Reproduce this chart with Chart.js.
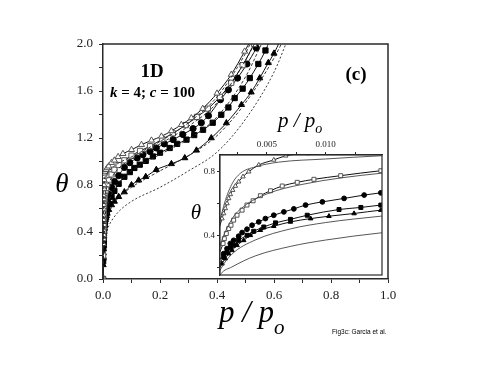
<!DOCTYPE html>
<html><head><meta charset="utf-8">
<script src="https://cdn.jsdelivr.net/npm/chart.js@4"></script>
<style>
html,body{margin:0;padding:0;background:#fff;}
#wrap{position:relative;width:491px;height:379px;}
#main{position:absolute;left:0;top:0;}
#inset{position:absolute;left:180px;top:100px;}
</style></head>
<body>
<div id="wrap">
<canvas id="main" width="491" height="379"></canvas>
<canvas id="inset" width="210" height="185"></canvas>
</div>
<script>
// ---- data (p/po, theta) ----
const pTriOpen = [0, 0.0005, 0.001168, 0.00131, 0.001453, 0.001596, 0.001738, 0.00188, 0.00208, 0.00231, 0.00259, 0.00296, 0.00345, 0.0043, 0.00558, 0.0066, 0.0085, 0.011, 0.015, 0.02, 0.03, 0.04, 0.053, 0.07, 0.1, 0.135, 0.17, 0.205, 0.24, 0.275, 0.31, 0.35, 0.4, 0.45, 0.497, 0.52];
const thTriOpen = [0, 0.3, 0.505, 0.537, 0.569, 0.6, 0.632, 0.657, 0.684, 0.71, 0.737, 0.769, 0.8, 0.842, 0.874, 0.9, 0.915, 0.93, 0.945, 0.96, 0.99, 1.01, 1.04, 1.066, 1.1, 1.143, 1.18, 1.214, 1.26, 1.313, 1.37, 1.45, 1.58, 1.74, 1.937, 2.04];

const pSqOpen = [0, 0.0005, 0.00126, 0.001368, 0.001538, 0.00174, 0.001937, 0.00216, 0.00245, 0.00288, 0.0033, 0.00382, 0.00444, 0.0053, 0.0063, 0.00758, 0.009, 0.01128, 0.0147, 0.02, 0.03, 0.04, 0.055, 0.075, 0.1, 0.13, 0.165, 0.208, 0.245, 0.29, 0.33, 0.368, 0.41, 0.45, 0.49, 0.53, 0.54];
const thSqOpen = [0, 0.2, 0.348, 0.379, 0.411, 0.442, 0.463, 0.495, 0.526, 0.558, 0.59, 0.617, 0.649, 0.68, 0.71, 0.733, 0.752, 0.775, 0.806, 0.84, 0.89, 0.93, 0.97, 1.01, 1.05, 1.09, 1.13, 1.19, 1.24, 1.31, 1.38, 1.45, 1.55, 1.67, 1.82, 2.0, 2.05];

const pCirc = [0, 0.0005, 0.00131, 0.001596, 0.00188, 0.002165, 0.00259, 0.00288, 0.0033, 0.00373, 0.0043, 0.00487, 0.00558, 0.00644, 0.00729, 0.00829, 0.00972, 0.01157, 0.01328, 0.0147, 0.02, 0.03, 0.04, 0.055, 0.075, 0.094, 0.12, 0.14, 0.165, 0.187, 0.215, 0.246, 0.28, 0.316, 0.345, 0.37, 0.412, 0.44, 0.472, 0.505, 0.538, 0.55];
const thCirc = [0, 0.17, 0.284, 0.316, 0.348, 0.368, 0.394, 0.417, 0.438, 0.463, 0.484, 0.505, 0.526, 0.547, 0.566, 0.59, 0.61, 0.632, 0.653, 0.667, 0.72, 0.78, 0.83, 0.88, 0.95, 0.99, 1.03, 1.058, 1.085, 1.115, 1.15, 1.186, 1.23, 1.28, 1.33, 1.39, 1.526, 1.61, 1.71, 1.83, 1.966, 2.03];

const pSq = [0, 0.0005, 0.00131, 0.0016, 0.00188, 0.00216, 0.00259, 0.0033, 0.00387, 0.00473, 0.00573, 0.007, 0.00843, 0.01114, 0.013, 0.0147, 0.02, 0.03, 0.04, 0.055, 0.075, 0.094, 0.11, 0.129, 0.15, 0.175, 0.2, 0.234, 0.26, 0.293, 0.32, 0.351, 0.385, 0.415, 0.44, 0.462, 0.49, 0.515, 0.545, 0.57, 0.585];
const thSq = [0, 0.15, 0.263, 0.295, 0.322, 0.337, 0.368, 0.4, 0.425, 0.452, 0.478, 0.5, 0.526, 0.562, 0.575, 0.59, 0.64, 0.7, 0.75, 0.81, 0.87, 0.91, 0.945, 0.973, 1.005, 1.043, 1.075, 1.115, 1.15, 1.186, 1.225, 1.27, 1.33, 1.398, 1.46, 1.54, 1.62, 1.71, 1.83, 1.945, 2.03];

const pTri = [0, 0.0005, 0.00117, 0.00145, 0.00174, 0.00203, 0.00245, 0.00302, 0.00359, 0.00444, 0.00558, 0.007, 0.00872, 0.01028, 0.01242, 0.0147, 0.02, 0.03, 0.04, 0.055, 0.075, 0.1, 0.125, 0.15, 0.187, 0.24, 0.287, 0.328, 0.38, 0.433, 0.486, 0.52, 0.55, 0.58, 0.6, 0.62];
const thTri = [0, 0.12, 0.221, 0.253, 0.284, 0.305, 0.337, 0.368, 0.4, 0.432, 0.457, 0.484, 0.505, 0.52, 0.537, 0.558, 0.59, 0.63, 0.66, 0.7, 0.74, 0.8, 0.84, 0.87, 0.93, 0.98, 1.03, 1.095, 1.2, 1.328, 1.483, 1.59, 1.71, 1.84, 1.92, 2.02];

// theoretical (thin / dashed) curves
const pD1 = [0, 0.0005, 0.0013, 0.002, 0.00274, 0.004, 0.006, 0.01, 0.0147, 0.03, 0.05, 0.1, 0.2, 0.3, 0.4, 0.5, 0.52];
const thD1 = [0, 0.3, 0.58, 0.72, 0.79, 0.83, 0.86, 0.88, 0.9, 0.94, 0.98, 1.04, 1.17, 1.33, 1.55, 1.92, 2.02];
const pD2 = [0, 0.001, 0.002, 0.003, 0.005, 0.008, 0.0147, 0.03, 0.05, 0.1, 0.2, 0.3, 0.4, 0.5, 0.535];
const thD2 = [0, 0.33, 0.5, 0.58, 0.66, 0.72, 0.79, 0.86, 0.93, 1.02, 1.15, 1.3, 1.5, 1.86, 2.02];
const pD3 = [0, 0.005, 0.0147, 0.02, 0.05, 0.1, 0.2, 0.3, 0.4, 0.5, 0.56];
const thD3 = [0, 0.45, 0.61, 0.66, 0.8, 0.92, 1.06, 1.19, 1.38, 1.72, 2.02];
const pD4 = [0, 0.00108, 0.002, 0.004, 0.007, 0.01, 0.0147, 0.02, 0.05, 0.1, 0.2, 0.3, 0.4, 0.5, 0.6, 0.63];
const thD4 = [0, 0.19, 0.28, 0.37, 0.44, 0.48, 0.52, 0.56, 0.68, 0.78, 0.92, 1.05, 1.22, 1.5, 1.88, 2.02];
const pD5 = [0, 0.00108, 0.002, 0.004, 0.007, 0.01, 0.0147, 0.02, 0.05, 0.1, 0.2, 0.3, 0.4, 0.5, 0.6, 0.645];
const thD5 = [0, 0.158, 0.2, 0.27, 0.33, 0.37, 0.415, 0.45, 0.56, 0.66, 0.78, 0.92, 1.08, 1.36, 1.76, 2.02];

// axis tick settings
const mainXTicks = [0.0, 0.2, 0.4, 0.6, 0.8, 1.0];
const mainYTicks = [0.0, 0.4, 0.8, 1.2, 1.6, 2.0];
const insetXTicks = [0.005, 0.010];
const insetYTicks = [0.4, 0.8];

function pts(px, py){ return px.map((x,i)=>({x:x, y:py[i]})); }
const SERIF = "'Liberation Serif','Times New Roman',serif";
const DARK = '#2a2a2a';

function markerSet(px, py, style, filled, r){
  return {data:pts(px,py), pointStyle:style, pointRadius:r, pointHoverRadius:r,
    pointBackgroundColor: filled ? '#000' : '#fff', pointBorderColor: filled ? '#000' : '#555',
    pointBorderWidth:1, borderColor:'#111', borderWidth:1, cubicInterpolationMode:'monotone', fill:false};
}
function thinSet(px, py, dash, color){
  return {data:pts(px,py), pointRadius:0, borderColor:color, borderWidth:0.9, borderDash:dash,
    cubicInterpolationMode:'monotone', fill:false};
}
function labelIn(list, v){ return list.some(t=>Math.abs(t-v)<1e-9); }

Chart.defaults.animation = false;
Chart.defaults.font.family = SERIF;

const mainPlugin = {
  id:'mainDeco',
  afterDraw(c){
    const ctx=c.ctx, a=c.chartArea;
    ctx.save();
    ctx.strokeStyle=DARK; ctx.lineWidth=1.5;
    ctx.beginPath(); ctx.moveTo(a.left,a.top); ctx.lineTo(a.right,a.top); ctx.lineTo(a.right,a.bottom); ctx.stroke();
    ctx.fillStyle='#000';
    ctx.textBaseline='alphabetic';
    ctx.font="bold 19px "+SERIF; ctx.textAlign='center';
    ctx.fillText('1D',152,77);
    ctx.fillText('(c)',356,80);
    ctx.textAlign='left';
    let x=110, y=97;
    const parts=[['k','bold italic'],[' = 4; ','bold'],['c','bold italic'],[' = 100','bold']];
    parts.forEach(([t,f])=>{ctx.font=f+" 15px "+SERIF; ctx.fillText(t,x,y); x+=ctx.measureText(t).width;});
    ctx.font="italic 27px "+SERIF; ctx.textAlign='center';
    ctx.fillText('\u03B8',62,192);
    ctx.textAlign='left';
    ctx.font="italic 31px "+SERIF;
    ctx.fillText('p / p',219,322);
    let w=ctx.measureText('p / p').width;
    ctx.font="italic 21px "+SERIF;
    ctx.fillText('o',219+w,334);
    ctx.font="6.5px 'Liberation Sans',Arial,sans-serif";
    ctx.fillText('Fig3c: Garcia et al.',332,334);
    ctx.restore();
  }
};

new Chart(document.getElementById('main'),{
  type:'line',
  data:{datasets:[
    thinSet(pD1,thD1,[3,2],'#222'),
    thinSet(pD2,thD2,[3,2],'#222'),
    thinSet(pD3,thD3,[3,2],'#222'),
    thinSet(pD4,thD4,[3,2],'#222'),
    thinSet(pD5,thD5,[2,2],'#222'),
    markerSet(pTriOpen,thTriOpen,'triangle',false,3.5),
    markerSet(pSqOpen,thSqOpen,'rect',false,3.7),
    markerSet(pCirc,thCirc,'circle',true,3.1),
    markerSet(pSq,thSq,'rect',true,3.7),
    markerSet(pTri,thTri,'triangle',true,3.5)
  ]},
  options:{
    responsive:false, devicePixelRatio:1,
    layout:{padding:{left:0,top:44,right:103,bottom:0}},
    plugins:{legend:{display:false},tooltip:{enabled:false}},
    scales:{
      x:{type:'linear',min:0,max:1,
        afterFit(s){s.height=100;},
        grid:{drawOnChartArea:false,tickLength:4,color:DARK,lineWidth:1},
        border:{color:DARK,width:1.5},
        ticks:{stepSize:0.1,padding:5,color:'#222',font:{size:13,family:SERIF},maxRotation:0,autoSkip:false,
          callback:(v)=>labelIn(mainXTicks,v)?v.toFixed(1):''}},
      y:{type:'linear',min:0,max:2,
        afterFit(s){s.width=103;},
        grid:{drawOnChartArea:false,tickLength:4,color:DARK,lineWidth:1},
        border:{color:DARK,width:1.5},
        ticks:{stepSize:0.2,padding:6,color:'#222',font:{size:13,family:SERIF},autoSkip:false,
          callback:(v)=>labelIn(mainYTicks,v)?v.toFixed(1):''}}
    }
  },
  plugins:[mainPlugin]
});

const insetPlugin = {
  id:'insetDeco',
  beforeDatasetsDraw(c){
    const ctx=c.ctx,a=c.chartArea;
    ctx.save(); ctx.fillStyle='#fff'; ctx.fillRect(a.left,a.top,a.right-a.left,a.bottom-a.top); ctx.restore();
  },
  afterDraw(c){
    const ctx=c.ctx,a=c.chartArea;
    ctx.save();
    ctx.strokeStyle=DARK; ctx.lineWidth=1.2;
    ctx.strokeRect(a.left,a.top,a.right-a.left,a.bottom-a.top);
    ctx.fillStyle='#000';
    ctx.font="italic 21px "+SERIF; ctx.textAlign='center'; ctx.textBaseline='alphabetic';
    ctx.fillText('\u03B8',16,119);
    ctx.textAlign='left';
    ctx.font="italic 21px "+SERIF;
    ctx.fillText('p / p',98,27);
    const w=ctx.measureText('p / p').width;
    ctx.font="italic 14px "+SERIF;
    ctx.fillText('o',98+w,33);
    ctx.restore();
  }
};

new Chart(document.getElementById('inset'),{
  type:'line',
  data:{datasets:[
    thinSet(pD1,thD1,[],'#444'),
    thinSet(pD2,thD2,[],'#444'),
    thinSet(pD4,thD4,[],'#444'),
    thinSet(pD5,thD5,[],'#444'),
    markerSet(pTriOpen,thTriOpen,'triangle',false,2.6),
    markerSet(pSqOpen,thSqOpen,'rect',false,2.8),
    markerSet(pCirc,thCirc,'circle',true,2.4),
    markerSet(pSq,thSq,'rect',true,2.8),
    markerSet(pTri,thTri,'triangle',true,2.6)
  ]},
  options:{
    responsive:false, devicePixelRatio:1,
    layout:{padding:{left:0,top:0,right:8,bottom:10}},
    plugins:{legend:{display:false},tooltip:{enabled:false}},
    scales:{
      x:{type:'linear',position:'top',min:0.001,max:0.0148,
        afterFit(s){s.height=55;},
        grid:{drawOnChartArea:false,tickLength:3,color:DARK,lineWidth:1},
        border:{color:DARK,width:1.2},
        ticks:{stepSize:0.0025,includeBounds:false,padding:2,color:'#222',font:{size:9,family:SERIF},maxRotation:0,autoSkip:false,
          callback:(v)=>labelIn(insetXTicks,v)?v.toFixed(3):''}},
      y:{type:'linear',min:0.15,max:0.905,
        afterFit(s){s.width=40;},
        grid:{drawOnChartArea:false,tickLength:3,color:DARK,lineWidth:1},
        border:{color:DARK,width:1.2},
        ticks:{stepSize:0.2,includeBounds:false,padding:2,color:'#222',font:{size:9,family:SERIF},autoSkip:false,
          callback:(v)=>labelIn(insetYTicks,v)?v.toFixed(1):''}}
    }
  },
  plugins:[insetPlugin]
});
</script>
</body></html>
